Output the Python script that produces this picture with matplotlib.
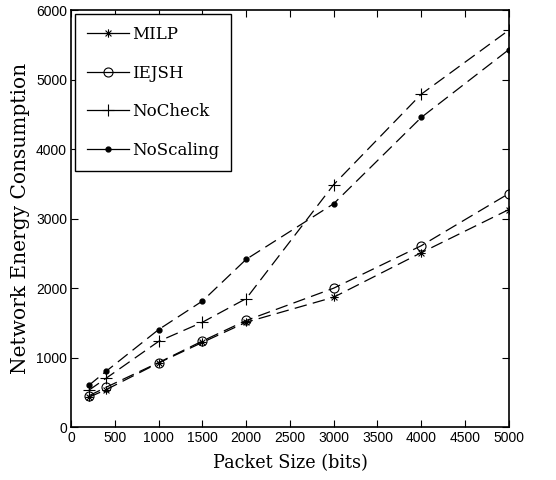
import matplotlib
matplotlib.use('Agg')
import matplotlib.pyplot as plt
from matplotlib.path import Path

# packet sizes (bits)
packet_size = [200, 400, 1000, 1500, 2000, 3000, 4000, 5000]

# network energy consumption per method
milp = [430, 540, 925, 1220, 1510, 1870, 2510, 3130]
iejsh = [450, 575, 930, 1240, 1535, 2000, 2610, 3360]
nocheck = [530, 705, 1235, 1510, 1850, 3490, 4790, 5710]
noscaling = [600, 805, 1405, 1815, 2415, 3215, 4455, 5430]

serif = ['DejaVu Serif']
sans = ['Liberation Sans', 'DejaVu Sans']

# matlab style asterisk marker (+ and x overlaid)
c = 0.7071
star = Path([(-1, 0), (1, 0), (0, -1), (0, 1), (-c, -c), (c, c), (-c, c), (c, -c)],
            [Path.MOVETO, Path.LINETO] * 4)

fig = plt.figure(figsize=(5.56, 4.8), dpi=100)
ax = fig.add_axes([0.128, 0.110, 0.787, 0.869])

lines = []
lines += ax.plot(packet_size, milp, color='k', lw=0.9, marker=star, ms=6,
                 mfc='none', mew=0.8, label='MILP')
lines += ax.plot(packet_size, iejsh, color='k', lw=0.9, marker='o', ms=6.5,
                 mfc='none', mew=0.8, label='IEJSH')
lines += ax.plot(packet_size, nocheck, color='k', lw=0.9, marker='+', ms=8,
                 mew=0.8, label='NoCheck')
lines += ax.plot(packet_size, noscaling, color='k', lw=0.9, marker='.', ms=7,
                 label='NoScaling')
for ln in lines:
    ln.set_dashes([10, 5])

ax.set_xlim(0, 5000)
ax.set_ylim(0, 6000)
ax.set_xticks(range(0, 5001, 500))
ax.set_yticks(range(0, 6001, 1000))
ax.tick_params(direction='in', top=True, right=True, length=5, width=0.8,
               labelsize=10, pad=3)
for lab in ax.get_xticklabels() + ax.get_yticklabels():
    lab.set_family(sans)
for s in ax.spines.values():
    s.set_linewidth(1.2)

ax.set_xlabel('Packet Size (bits)', family=serif, fontsize=12.7, labelpad=6)
ax.set_ylabel('Network Energy Consumption', family=serif, fontsize=14.5, labelpad=4)

leg = ax.legend(loc='upper left', prop={'family': serif, 'size': 12},
                fancybox=False, edgecolor='k', framealpha=1, handlelength=2.5,
                labelspacing=1.3, borderpad=0.7, handletextpad=0.2,
                borderaxespad=0.25)
leg.get_frame().set_linewidth(1.0)
for h in leg.get_lines():
    h.set_linestyle('-')

fig.savefig('out.png', dpi=100)
